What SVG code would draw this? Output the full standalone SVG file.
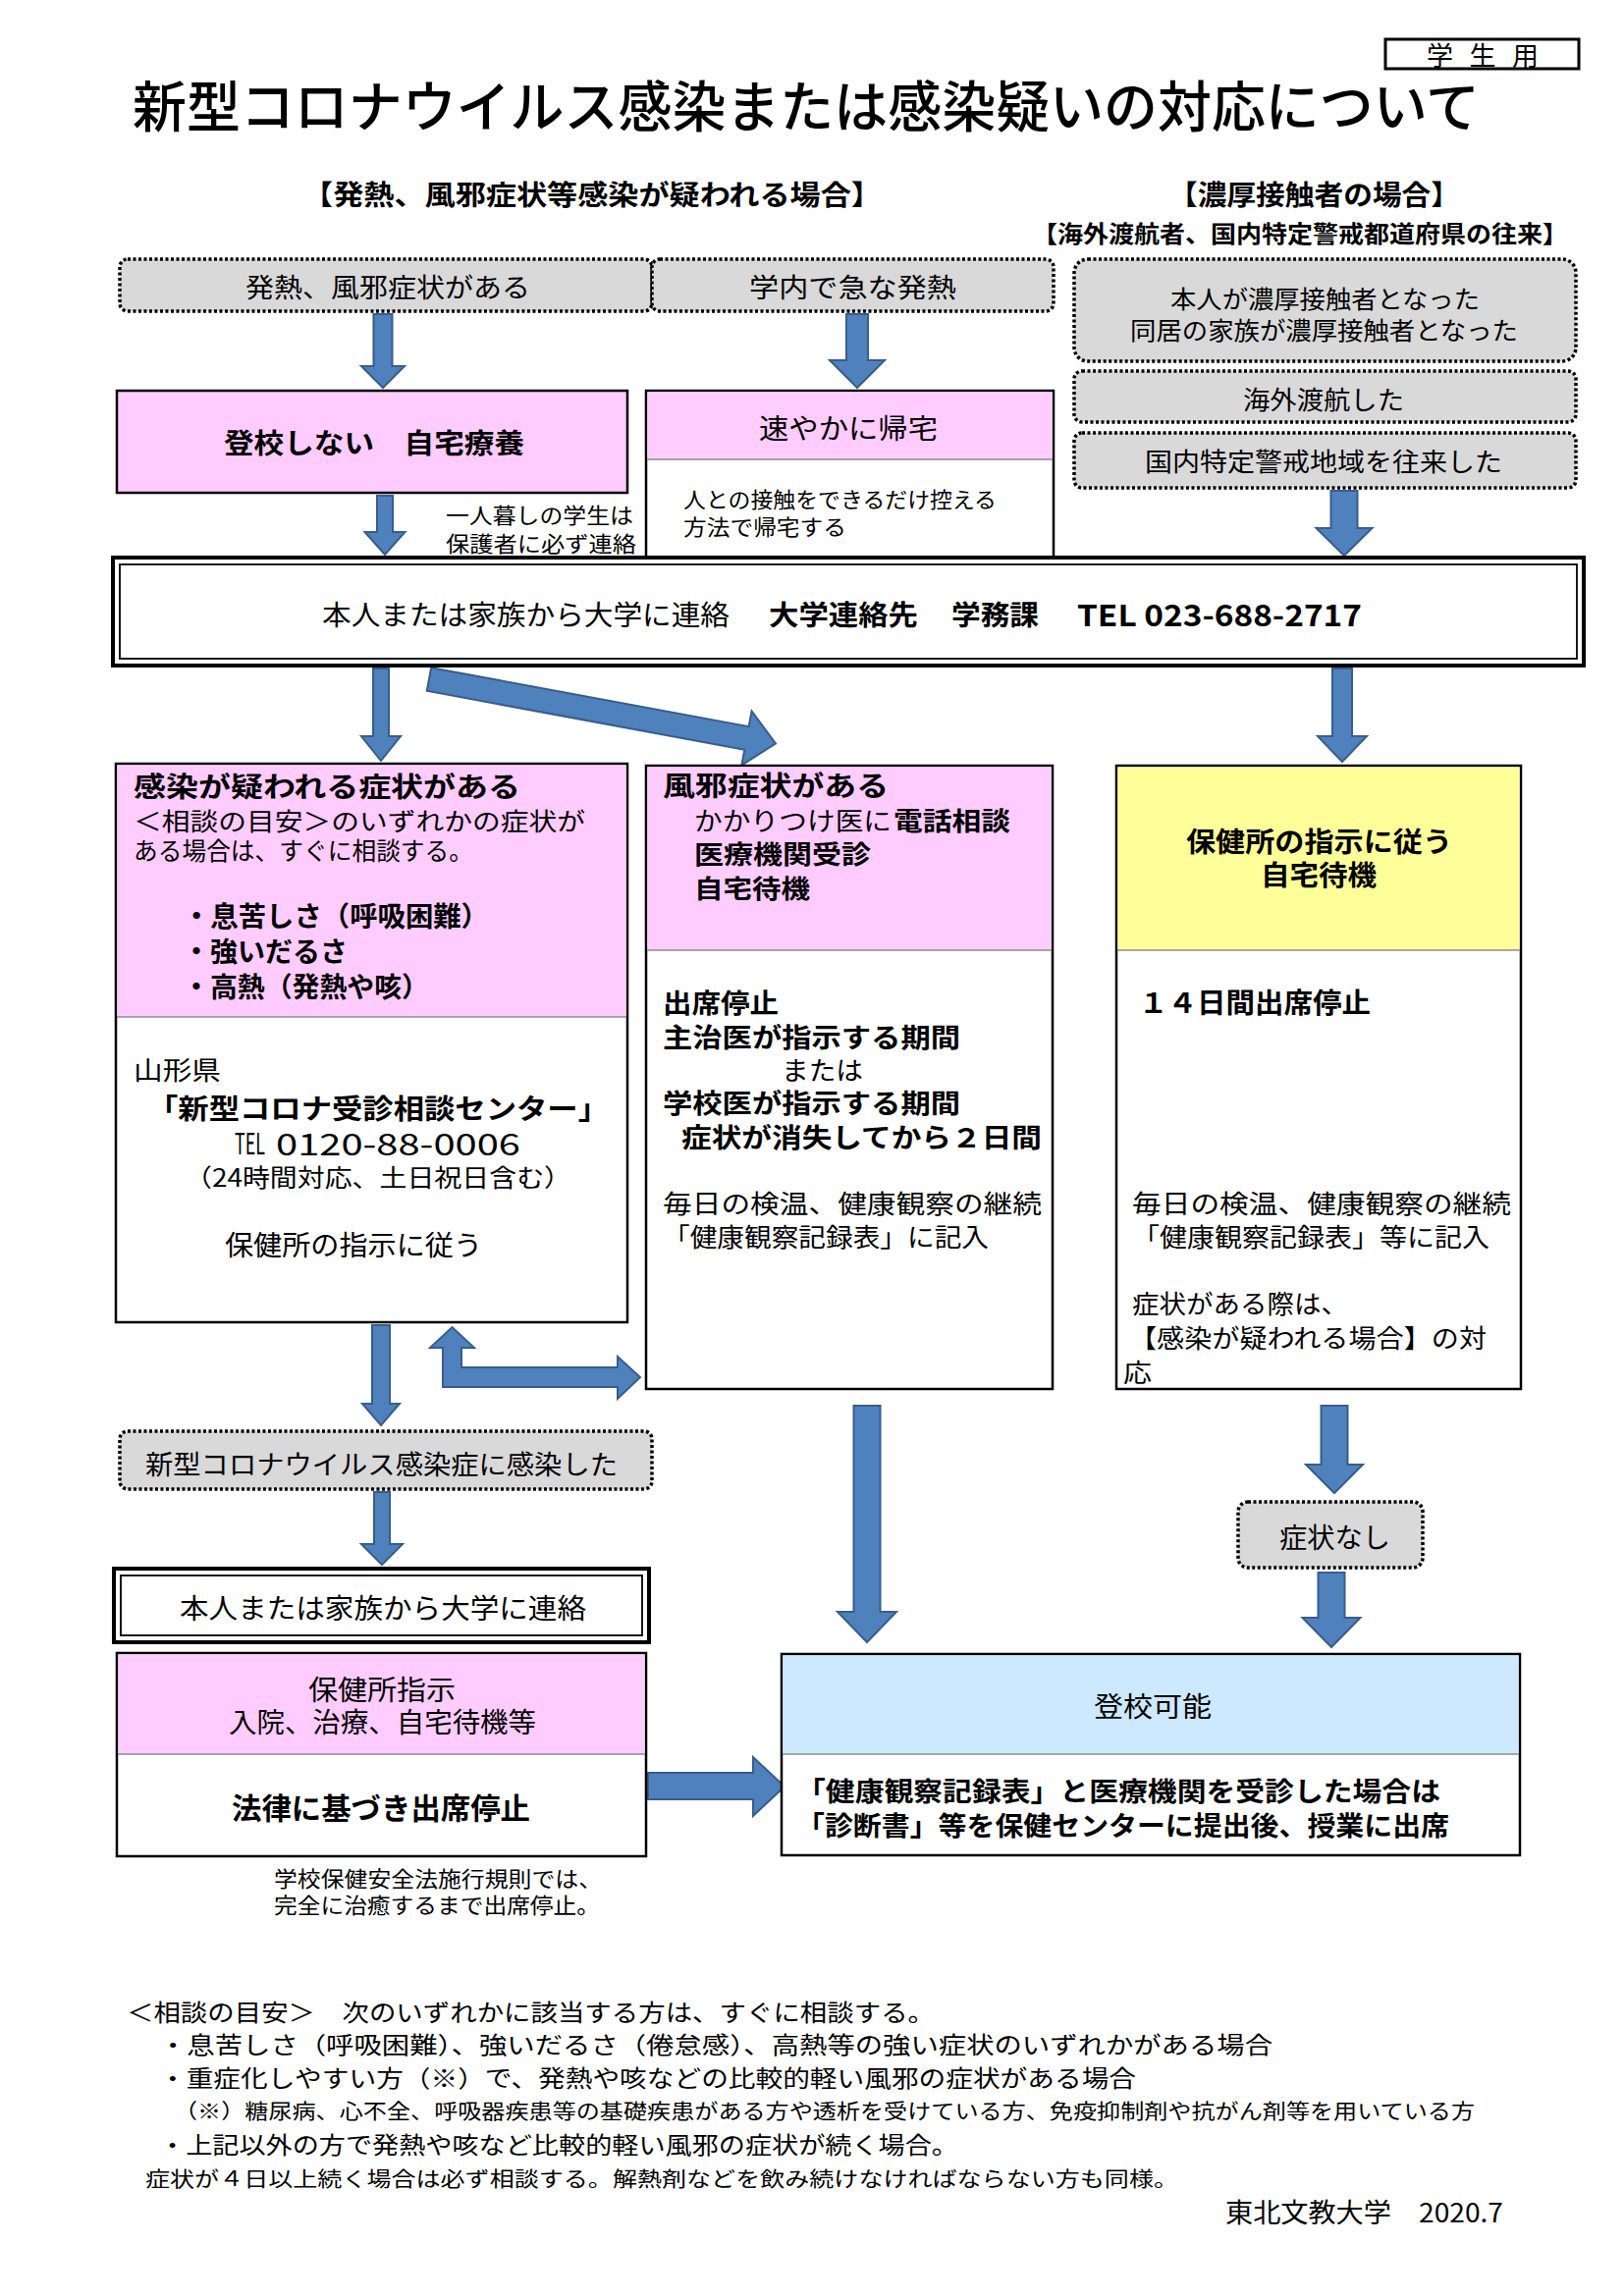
<svg xmlns="http://www.w3.org/2000/svg" width="1654" height="2339" viewBox="0 0 1654 2339">
<style>
text { font-family: "Noto Sans CJK JP", "Noto Sans", sans-serif; dominant-baseline: central; fill: #000; }
.b { font-weight: 700; }
.box { fill: #fff; stroke: #000; stroke-width: 2.5; }
.pink { fill: #ffccff; }
.yel { fill: #ffff99; }
.blue { fill: #cce9ff; }
.div { stroke: #8c8c8c; stroke-width: 1.5; }
.dot { fill: #d9d9d9; stroke: #000; stroke-width: 3.5; stroke-dasharray: 3 2.5; }
.arr { fill: #4f81bd; stroke: #385d8a; stroke-width: 2; }
.dbl1 { fill: #fff; stroke: #000; stroke-width: 4; }
.dbl2 { fill: none; stroke: #000; stroke-width: 1.8; }
</style>
<rect width="1654" height="2339" fill="#fff"/>

<g id="tag">
<rect x="1411" y="40" width="197" height="30" fill="#fff" stroke="#000" stroke-width="3"/>
<text x="1453" y="55" font-size="27" textLength="114" lengthAdjust="spacing">学 生 用</text>
</g>
<g id="title">
<text x="135" y="104" font-size="56" font-weight="500" textLength="1372" lengthAdjust="spacingAndGlyphs">新型コロナウイルス感染または感染疑いの対応について</text>
</g>
<g id="heads">
<text class="b" x="308" y="197" font-size="28" textLength="590" lengthAdjust="spacingAndGlyphs">【発熱、風邪症状等感染が疑われる場合】</text>
<text class="b" x="1190" y="197" font-size="28" textLength="297" lengthAdjust="spacingAndGlyphs">【濃厚接触者の場合】</text>
<text class="b" x="1051" y="236" font-size="24" textLength="546" lengthAdjust="spacingAndGlyphs">【海外渡航者、国内特定警戒都道府県の往来】</text>
</g>

<g id="connectors">
<polygon class="arr" points="380.5,320 399.5,320 399.5,373 412,373 390,395 368,373 380.5,373"/>
<polygon class="arr" points="862,320 884,320 884,367 901,367 873,395 845,367 862,367"/>
<polygon class="arr" points="1355.5,500 1382.5,500 1382.5,538 1397.5,538 1369,566 1340.5,538 1355.5,538"/>
<polygon class="arr" points="384,505 400,505 400,542 412.5,542 392,565 371.5,542 384,542"/>
<polygon class="arr" points="380,681 396,681 396,750 408,750 388,775 368,750 380,750"/>
<polygon class="arr" transform="translate(437,692) rotate(10.5)" points="0,-12 329,-12 329,-28 359,0 329,28 329,12 0,12"/>
<polygon class="arr" points="1357,681 1377,681 1377,750 1392,750 1367,776 1342,750 1357,750"/>
<polygon class="arr" points="379,1350 397,1350 397,1430 407,1430 388,1452 369,1430 379,1430"/>
<polygon class="arr" points="451,1413 629,1413 629,1425 652,1403 629,1382 629,1393 470,1393 470,1373 483,1373 460.5,1352 438,1373 451,1373"/>
<polygon class="arr" points="381,1520 397,1520 397,1573 410,1573 389,1594 368,1573 381,1573"/>
<polygon class="arr" points="869.5,1432 896.5,1432 896.5,1642 913,1642 883,1673 853,1642 869.5,1642"/>
<polygon class="arr" points="1345.5,1432 1372.5,1432 1372.5,1492 1388,1492 1359,1521 1330,1492 1345.5,1492"/>
<polygon class="arr" points="1342.5,1602 1369.5,1602 1369.5,1648 1385.5,1648 1356,1678 1326.5,1648 1342.5,1648"/>
<polygon class="arr" points="660,1806 767,1806 767,1790 799,1820 767,1850 767,1833 660,1833"/>
</g>

<g id="n-fever">
<rect class="dot" x="122" y="264" width="542" height="53" rx="8"/>
<text x="250" y="291" font-size="27" textLength="290" lengthAdjust="spacingAndGlyphs">発熱、風邪症状がある</text>
</g>
<g id="n-campus">
<rect class="dot" x="664" y="264" width="409" height="53" rx="8"/>
<text x="763" y="291" font-size="27" textLength="211" lengthAdjust="spacingAndGlyphs">学内で急な発熱</text>
</g>
<g id="n-close">
<rect class="dot" x="1094" y="264" width="511" height="104" rx="14"/>
<text x="1192" y="303" font-size="25" textLength="315" lengthAdjust="spacingAndGlyphs">本人が濃厚接触者となった</text>
<text x="1151" y="335" font-size="25" textLength="395" lengthAdjust="spacingAndGlyphs">同居の家族が濃厚接触者となった</text>
</g>
<g id="n-abroad">
<rect class="dot" x="1094" y="378" width="511" height="52" rx="8"/>
<text x="1266" y="405" font-size="26" textLength="164" lengthAdjust="spacingAndGlyphs">海外渡航した</text>
</g>
<g id="n-domestic">
<rect class="dot" x="1094" y="441" width="511" height="56" rx="8"/>
<text x="1166" y="468" font-size="26" textLength="364" lengthAdjust="spacingAndGlyphs">国内特定警戒地域を往来した</text>
</g>

<g id="n-stayhome">
<rect class="box pink" x="119" y="398" width="520" height="104" stroke="#000" stroke-width="3"/>
<text class="b" x="228" y="450" font-size="28" textLength="306" lengthAdjust="spacingAndGlyphs">登校しない　自宅療養</text>
</g>
<g id="n-gohome">
<rect class="box" x="658" y="398" width="415" height="170"/>
<rect class="pink" x="659.5" y="399.5" width="412" height="68.5"/>
<line class="div" x1="659" y1="468" x2="1072" y2="468"/>
<text x="773" y="435" font-size="28" textLength="182" lengthAdjust="spacingAndGlyphs">速やかに帰宅</text>
<text x="696" y="507" font-size="22" textLength="319" lengthAdjust="spacingAndGlyphs">人との接触をできるだけ控える</text>
<text x="696" y="535" font-size="22" textLength="166" lengthAdjust="spacingAndGlyphs">方法で帰宅する</text>
</g>
<g id="note-alone">
<text x="454" y="523" font-size="22" textLength="191" lengthAdjust="spacingAndGlyphs">一人暮しの学生は</text>
<text x="454" y="552" font-size="22" textLength="194" lengthAdjust="spacingAndGlyphs">保護者に必ず連絡</text>
</g>

<g id="n-contact">
<rect class="dbl1" x="115" y="568" width="1498" height="110"/>
<rect class="dbl2" x="122" y="575" width="1484" height="96"/>
<text x="328" y="625" font-size="28" textLength="415" lengthAdjust="spacingAndGlyphs">本人または家族から大学に連絡</text>
<text class="b" x="783" y="625" font-size="28" textLength="152" lengthAdjust="spacingAndGlyphs">大学連絡先</text>
<text class="b" x="969" y="625" font-size="28" textLength="89" lengthAdjust="spacingAndGlyphs">学務課</text>
<text class="b" x="1097" y="625" font-size="30" textLength="290" lengthAdjust="spacingAndGlyphs">TEL 023-688-2717</text>
</g>

<g id="n-suspect">
<rect class="box" x="118" y="778" width="521" height="569"/>
<rect class="pink" x="119.5" y="779.5" width="518" height="256.5"/>
<line class="div" x1="119" y1="1036" x2="638" y2="1036"/>
<text class="b" x="136" y="800" font-size="28" textLength="394" lengthAdjust="spacingAndGlyphs">感染が疑われる症状がある</text>
<text x="136" y="835" font-size="25" textLength="460" lengthAdjust="spacingAndGlyphs">＜相談の目安＞のいずれかの症状が</text>
<text x="136" y="865" font-size="25" textLength="346" lengthAdjust="spacingAndGlyphs">ある場合は、すぐに相談する。</text>
<text class="b" x="186" y="932" font-size="28" textLength="312" lengthAdjust="spacingAndGlyphs">・息苦しさ（呼吸困難）</text>
<text class="b" x="186" y="968" font-size="28" textLength="168" lengthAdjust="spacingAndGlyphs">・強いだるさ</text>
<text class="b" x="186" y="1004" font-size="28" textLength="251" lengthAdjust="spacingAndGlyphs">・高熱（発熱や咳）</text>
<text x="136" y="1088" font-size="26" textLength="89" lengthAdjust="spacingAndGlyphs">山形県</text>
<text class="b" x="150" y="1128" font-size="28" textLength="470" lengthAdjust="spacingAndGlyphs">「新型コロナ受診相談センター」</text>
<text x="239" y="1163" font-size="30" textLength="31" lengthAdjust="spacingAndGlyphs">TEL</text>
<text x="281" y="1163" font-size="31" textLength="249" lengthAdjust="spacingAndGlyphs">0120-88-0006</text>
<text x="188" y="1198" font-size="25" textLength="394" lengthAdjust="spacingAndGlyphs">（24時間対応、土日祝日含む）</text>
<text x="229" y="1267" font-size="28" textLength="262" lengthAdjust="spacingAndGlyphs">保健所の指示に従う</text>
</g>

<g id="n-cold">
<rect class="box" x="658" y="780" width="414" height="635"/>
<rect class="pink" x="659.5" y="781.5" width="411" height="186.5"/>
<line class="div" x1="659" y1="968" x2="1071" y2="968"/>
<text class="b" x="675" y="799" font-size="28" textLength="230" lengthAdjust="spacingAndGlyphs">風邪症状がある</text>
<text x="707" y="834" font-size="26" textLength="201" lengthAdjust="spacingAndGlyphs">かかりつけ医に</text>
<text class="b" x="910" y="834" font-size="26" textLength="119" lengthAdjust="spacingAndGlyphs">電話相談</text>
<text class="b" x="707" y="868" font-size="26" textLength="180" lengthAdjust="spacingAndGlyphs">医療機関受診</text>
<text class="b" x="707" y="903" font-size="26" textLength="118" lengthAdjust="spacingAndGlyphs">自宅待機</text>
<text class="b" x="675" y="1020" font-size="27" textLength="118" lengthAdjust="spacingAndGlyphs">出席停止</text>
<text class="b" x="675" y="1055" font-size="27" textLength="303" lengthAdjust="spacingAndGlyphs">主治医が指示する期間</text>
<text x="796" y="1088" font-size="26" textLength="83" lengthAdjust="spacingAndGlyphs">または</text>
<text class="b" x="675" y="1122" font-size="27" textLength="303" lengthAdjust="spacingAndGlyphs">学校医が指示する期間</text>
<text class="b" x="694" y="1157" font-size="27" textLength="367" lengthAdjust="spacingAndGlyphs">症状が消失してから２日間</text>
<text x="675" y="1224" font-size="26" textLength="386" lengthAdjust="spacingAndGlyphs">毎日の検温、健康観察の継続</text>
<text x="675" y="1258" font-size="26" textLength="332" lengthAdjust="spacingAndGlyphs">「健康観察記録表」に記入</text>
</g>

<g id="n-health">
<rect class="box" x="1137" y="780" width="412" height="635"/>
<rect class="yel" x="1138.5" y="781.5" width="409" height="186.5"/>
<line class="div" x1="1138" y1="968" x2="1548" y2="968"/>
<text class="b" x="1208" y="856" font-size="28" textLength="271" lengthAdjust="spacingAndGlyphs">保健所の指示に従う</text>
<text class="b" x="1284" y="890" font-size="28" textLength="118" lengthAdjust="spacingAndGlyphs">自宅待機</text>
<text class="b" x="1160" y="1020" font-size="28" textLength="236" lengthAdjust="spacingAndGlyphs">１４日間出席停止</text>
<text x="1153" y="1224" font-size="26" textLength="386" lengthAdjust="spacingAndGlyphs">毎日の検温、健康観察の継続</text>
<text x="1153" y="1258" font-size="26" textLength="364" lengthAdjust="spacingAndGlyphs">「健康観察記録表」等に記入</text>
<text x="1153" y="1326" font-size="26" textLength="220" lengthAdjust="spacingAndGlyphs">症状がある際は、</text>
<text x="1150" y="1361" font-size="26" textLength="364" lengthAdjust="spacingAndGlyphs">【感染が疑われる場合】の対</text>
<text x="1144" y="1396" font-size="26" textLength="29" lengthAdjust="spacingAndGlyphs">応</text>
</g>

<g id="n-infected">
<rect class="dot" x="122" y="1458" width="542" height="59" rx="8"/>
<text x="148" y="1490" font-size="27" textLength="481" lengthAdjust="spacingAndGlyphs">新型コロナウイルス感染症に感染した</text>
</g>
<g id="n-contact2">
<rect class="dbl1" x="116" y="1598" width="545" height="75"/>
<rect class="dbl2" x="123" y="1605" width="531" height="61"/>
<text x="183" y="1637" font-size="28" textLength="414" lengthAdjust="spacingAndGlyphs">本人または家族から大学に連絡</text>
</g>
<g id="n-instruct">
<rect class="box" x="119" y="1684" width="539" height="207"/>
<rect class="pink" x="120.5" y="1685.5" width="536" height="101.5"/>
<line class="div" x1="120" y1="1787" x2="657" y2="1787"/>
<text x="314" y="1720" font-size="28" textLength="150" lengthAdjust="spacingAndGlyphs">保健所指示</text>
<text x="233" y="1753" font-size="28" textLength="313" lengthAdjust="spacingAndGlyphs">入院、治療、自宅待機等</text>
<text class="b" x="236" y="1840" font-size="30" textLength="304" lengthAdjust="spacingAndGlyphs">法律に基づき出席停止</text>
</g>
<g id="note-law">
<text x="279" y="1912" font-size="22" textLength="334" lengthAdjust="spacingAndGlyphs">学校保健安全法施行規則では、</text>
<text x="279" y="1939" font-size="22" textLength="332" lengthAdjust="spacingAndGlyphs">完全に治癒するまで出席停止。</text>
</g>
<g id="n-nosymptom">
<rect class="dot" x="1261" y="1530" width="188" height="67" rx="10"/>
<text x="1303" y="1565" font-size="28" textLength="113" lengthAdjust="spacingAndGlyphs">症状なし</text>
</g>
<g id="n-return">
<rect class="box" x="796" y="1685" width="752" height="205"/>
<rect class="blue" x="797.5" y="1686.5" width="749" height="100.5"/>
<line class="div" x1="797" y1="1787" x2="1547" y2="1787"/>
<text x="1114" y="1737" font-size="28" textLength="120" lengthAdjust="spacingAndGlyphs">登校可能</text>
<text class="b" x="811" y="1823" font-size="27" textLength="656" lengthAdjust="spacingAndGlyphs">「健康観察記録表」と医療機関を受診した場合は</text>
<text class="b" x="811" y="1858" font-size="27" textLength="665" lengthAdjust="spacingAndGlyphs">「診断書」等を保健センターに提出後、授業に出席</text>
</g>

<g id="footnotes">
<text x="129" y="2048" font-size="24" textLength="823" lengthAdjust="spacingAndGlyphs">＜相談の目安＞　次のいずれかに該当する方は、すぐに相談する。</text>
<text x="162" y="2081" font-size="24" textLength="1134" lengthAdjust="spacingAndGlyphs">・息苦しさ（呼吸困難）、強いだるさ（倦怠感）、高熱等の強い症状のいずれかがある場合</text>
<text x="162" y="2115" font-size="24" textLength="995" lengthAdjust="spacingAndGlyphs">・重症化しやすい方（※）で、発熱や咳などの比較的軽い風邪の症状がある場合</text>
<text x="177" y="2149" font-size="21" textLength="1325" lengthAdjust="spacingAndGlyphs">（※）糖尿病、心不全、呼吸器疾患等の基礎疾患がある方や透析を受けている方、免疫抑制剤や抗がん剤等を用いている方</text>
<text x="162" y="2183" font-size="24" textLength="814" lengthAdjust="spacingAndGlyphs">・上記以外の方で発熱や咳など比較的軽い風邪の症状が続く場合。</text>
<text x="148" y="2218" font-size="21" textLength="1052" lengthAdjust="spacingAndGlyphs">症状が４日以上続く場合は必ず相談する。解熱剤などを飲み続けなければならない方も同様。</text>
<text x="1248" y="2252" font-size="27" textLength="283" lengthAdjust="spacingAndGlyphs">東北文教大学　2020.7</text>
</g>
</svg>
